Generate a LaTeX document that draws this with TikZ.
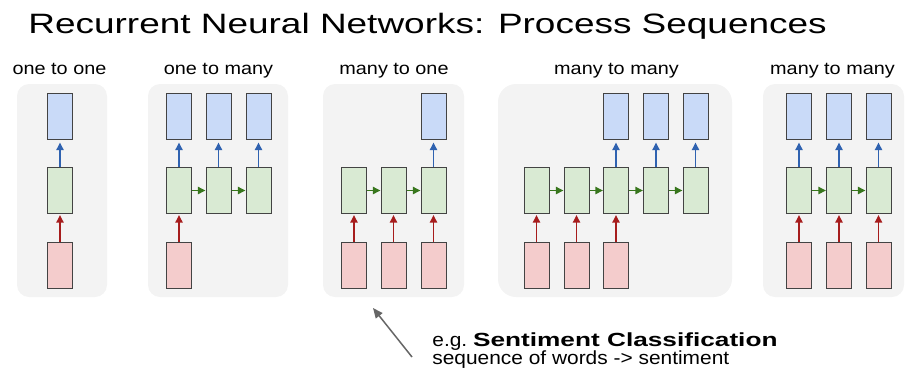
\documentclass[tikz,border=0pt]{standalone}
\usepackage{fontspec}
\usepackage{graphicx}
\setmainfont{Liberation Sans}
\usetikzlibrary{arrows.meta}
\definecolor{panelbg}{HTML}{F3F3F3}
\definecolor{bluefill}{HTML}{C9DAF8}
\definecolor{greenfill}{HTML}{D9EAD3}
\definecolor{redfill}{HTML}{F4CCCC}
\definecolor{boxline}{HTML}{434343}
\definecolor{bluearr}{HTML}{2F62B0}
\definecolor{redarr}{HTML}{A61C1C}
\definecolor{greenarr}{HTML}{38761D}
\definecolor{pointer}{HTML}{666666}
\tikzset{
  cell/.style={draw=boxline, line width=0.5pt, minimum width=12.5pt, minimum height=23pt, inner sep=0pt},
  outbox/.style={cell, fill=bluefill},
  hidbox/.style={cell, fill=greenfill},
  inbox/.style={cell, fill=redfill},
  panel/.style={fill=panelbg, rounded corners=6pt},
  widepanel/.style={fill=panelbg, rounded corners=9pt},
  tipstyle/.style={-{Triangle[length=3.8pt,width=3.6pt]}, line width=0.75pt},
  blueup/.style={tipstyle, draw=bluearr, fill=bluearr, shorten >=1.5pt},
  redup/.style={tipstyle, draw=redarr, fill=redarr, shorten >=0.5pt},
  greenright/.style={tipstyle, draw=greenarr, fill=greenarr},
  panellabel/.style={font=\fontsize{8.7}{10}\selectfont, inner sep=0pt, anchor=base},
}
\begin{document}
\begin{tikzpicture}[x=0.5pt, y=-0.5pt]
\useasboundingbox (0,0) rectangle (906,376);
% title
\node[anchor=base west, inner sep=0pt] (title) at (28,33)
  {\fontsize{14}{16}\selectfont\scalebox{1.32}[1]{Recurrent Neural Networks: Process Sequences}};
% panels
\fill[panel] (17,84) rectangle (107,297);
\fill[panel] (148,84) rectangle (288,297);
\fill[panel] (323,84) rectangle (464,297);
\fill[widepanel] (498,84) rectangle (732,297);
\fill[panel] (763,84) rectangle (904,297);
% labels
\node[panellabel] (l1) at (59.5,74) {\scalebox{1.14}[1]{one to one}};
\node[panellabel] (l2) at (218.5,74) {\scalebox{1.14}[1]{one to many}};
\node[panellabel] (l3) at (394,74) {\scalebox{1.14}[1]{many to one}};
\node[panellabel] (l4) at (616.5,74) {\scalebox{1.14}[1]{many to many}};
\node[panellabel] (l5) at (832.5,74) {\scalebox{1.14}[1]{many to many}};
% panel 1: one to one
\node[inbox] (p1i1) at (60,265) {};
\node[hidbox] (p1h1) at (60,190.5) {};
\node[outbox] (p1o1) at (60,116) {};
\draw[redup] (p1i1) -- (p1h1);
\draw[blueup] (p1h1) -- (p1o1);
% panel 2: one to many
\node[inbox] (p2i1) at (179,265) {};
\foreach \i/\x in {1/179,2/218.5,3/258.5}{
  \node[hidbox] (p2h\i) at (\x,190.5) {};
  \node[outbox] (p2o\i) at (\x,116) {};
  \draw[blueup] (p2h\i) -- (p2o\i);
}
\draw[redup] (p2i1) -- (p2h1);
\draw[greenright] (p2h1) -- (p2h2);
\draw[greenright] (p2h2) -- (p2h3);
% panel 3: many to one
\foreach \i/\x in {1/354,2/393.5,3/433.5}{
  \node[inbox] (p3i\i) at (\x,265) {};
  \node[hidbox] (p3h\i) at (\x,190.5) {};
  \draw[redup] (p3i\i) -- (p3h\i);
}
\node[outbox] (p3o3) at (433.5,116) {};
\draw[blueup] (p3h3) -- (p3o3);
\draw[greenright] (p3h1) -- (p3h2);
\draw[greenright] (p3h2) -- (p3h3);
% panel 4: many to many (delayed)
\foreach \i/\x in {1/536.5,2/576.5,3/616,4/656,5/695.5}{
  \node[hidbox] (p4h\i) at (\x,190.5) {};
}
\foreach \i in {1,2,3}{
  \node[inbox] (p4i\i) at (p4h\i |- 0,265) {};
  \draw[redup] (p4i\i) -- (p4h\i);
}
\foreach \i in {3,4,5}{
  \node[outbox] (p4o\i) at (p4h\i |- 0,116) {};
  \draw[blueup] (p4h\i) -- (p4o\i);
}
\draw[greenright] (p4h1) -- (p4h2);
\draw[greenright] (p4h2) -- (p4h3);
\draw[greenright] (p4h3) -- (p4h4);
\draw[greenright] (p4h4) -- (p4h5);
% panel 5: many to many (synced)
\foreach \i/\x in {1/799,2/839,3/878.5}{
  \node[inbox] (p5i\i) at (\x,265) {};
  \node[hidbox] (p5h\i) at (\x,190.5) {};
  \node[outbox] (p5o\i) at (\x,116) {};
  \draw[redup] (p5i\i) -- (p5h\i);
  \draw[blueup] (p5h\i) -- (p5o\i);
}
\draw[greenright] (p5h1) -- (p5h2);
\draw[greenright] (p5h2) -- (p5h3);
% annotation
\coordinate (atail) at (412,357);
\coordinate (ahead) at (373,308);
\draw[pointer, line width=0.75pt, -{Triangle[length=5pt,width=4.2pt]}] (atail) -- (ahead);
\node[anchor=base west, inner sep=0pt] (s1) at (432,346)
  {\fontsize{9.5}{11}\selectfont\scalebox{1.1}[1]{e.g.\ }\scalebox{1.38}[1]{\textbf{Sentiment Classification}}};
\node[anchor=base west, inner sep=0pt] (s2) at (432,364)
  {\fontsize{9.5}{11}\selectfont\scalebox{1.1}[1]{sequence of words -> sentiment}};
\end{tikzpicture}
\end{document}
